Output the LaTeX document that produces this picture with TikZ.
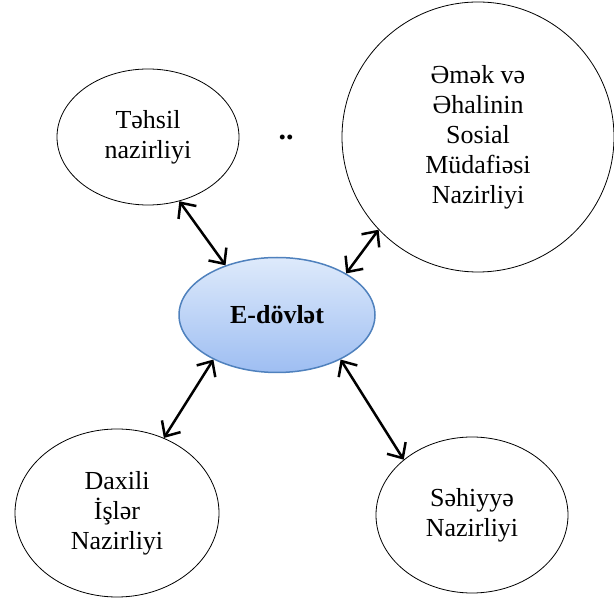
\documentclass[tikz,border=0pt]{standalone}
\usepackage{fontspec}
\setmainfont{Liberation Serif}
\usetikzlibrary{arrows.meta,shapes.geometric}

\definecolor{hubline}{RGB}{79,129,189}
\definecolor{hubtop}{RGB}{222,234,251}
\definecolor{hubbot}{RGB}{158,190,242}

\begin{document}
\begin{tikzpicture}[x=1pt,y=-1pt,>={Straight Barb[length=12pt,width=22pt]},
    ministry/.style={ellipse,draw,line width=0.8pt,inner sep=0pt,align=center,
      font=\fontsize{26}{30}\selectfont},
    hub/.style={ellipse,draw=hubline,line width=1.5pt,top color=hubtop,bottom color=hubbot,
      inner sep=0pt,font=\fontsize{26}{30}\selectfont\bfseries},
    link/.style={<->,line width=2.5pt}]
    \useasboundingbox (0,0) rectangle (614,601);
    \node[hub,minimum width=196pt,minimum height=115pt] (edovlet) at (277,315) {E-dövlət};
    \node[ministry,minimum width=182pt,minimum height=136pt] (tehsil) at (148,137) {Təhsil\\nazirliyi};
    \node[ministry,minimum width=272pt,minimum height=270pt] (emek) at (478,137)
      {Əmək və\\Əhalinin\\Sosial\\Müdafiəsi\\Nazirliyi};
    \node[ministry,minimum width=204pt,minimum height=168pt] (daxili) at (117,513) {Daxili\\İşlər\\Nazirliyi};
    \node[ministry,minimum width=192pt,minimum height=156pt] (sehiyye) at (472,515) {Səhiyyə\\Nazirliyi};
    \node[font=\fontsize{30}{34}\selectfont\bfseries,inner sep=0pt] (dots) at (286,137) {..};
    % links to the hub
    \draw[link] (tehsil.-64) -- (edovlet.136);
    \draw[link] (emek.223) -- (edovlet.31);
    \draw[link] (daxili.58) -- (edovlet.-145);
    \draw[link] (sehiyye.141) -- (edovlet.-35);
\end{tikzpicture}
\end{document}
